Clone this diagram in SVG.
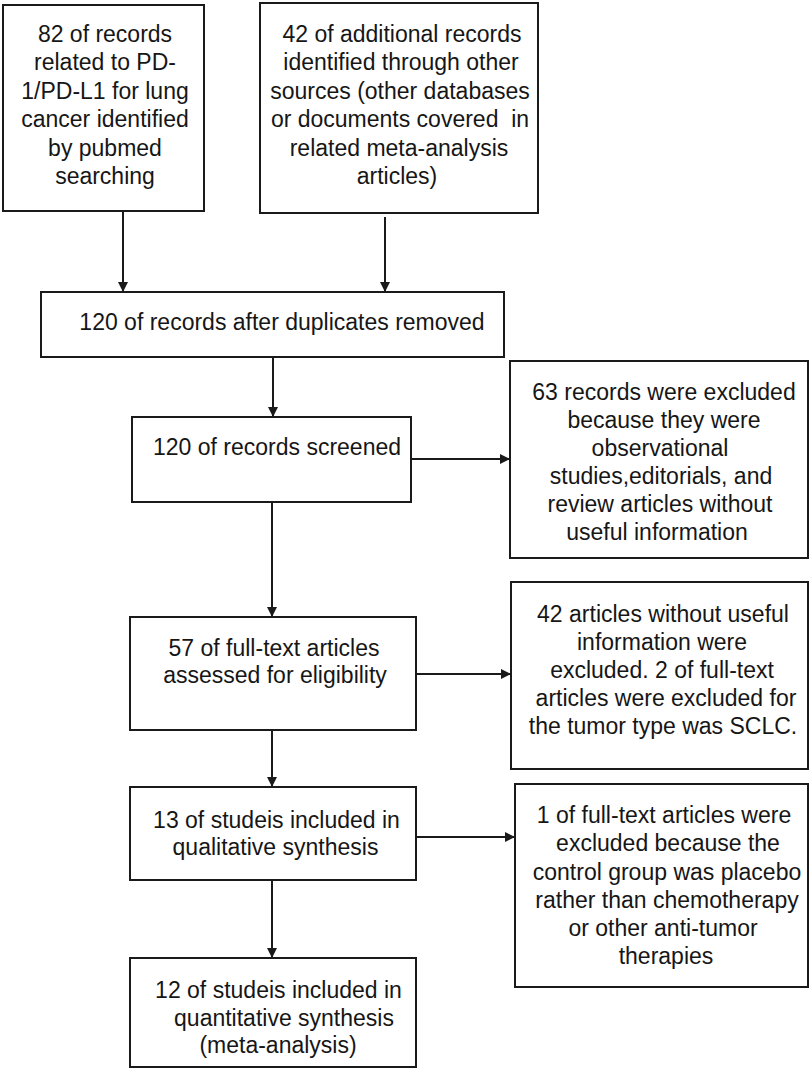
<svg xmlns="http://www.w3.org/2000/svg" width="810" height="1080" viewBox="0 0 810 1080">
<defs>
<marker id="ah" markerUnits="userSpaceOnUse" markerWidth="10" markerHeight="10" refX="10" refY="5" orient="auto">
<path d="M0,0 L10,5 L0,10 z" fill="#1a1a1a"/>
</marker>
<style>
rect.box{fill:#fff;stroke:#1a1a1a;stroke-width:2}
text{font-family:"Liberation Sans",Arial,sans-serif;font-size:23px;fill:#161616;text-anchor:middle}
.conn line{stroke:#1a1a1a;stroke-width:2;marker-end:url(#ah)}
</style>
</defs>
<rect width="810" height="1080" fill="#fff"/>
<g id="n1">
<rect class="box" x="3" y="5" width="201" height="206"/>
<text x="105" y="41.5">82 of records</text>
<text x="105" y="70">related to PD-</text>
<text x="105" y="98.5">1/PD-L1 for lung</text>
<text x="105" y="127">cancer identified</text>
<text x="105" y="155.5">by pubmed</text>
<text x="105" y="184">searching</text>
</g>
<g id="n2">
<rect class="box" x="260" y="3" width="278" height="210"/>
<text x="402" y="41.5">42 of additional records</text>
<text x="401" y="70">identified through other</text>
<text x="400" y="98.5">sources (other databases</text>
<text x="400" y="127" xml:space="preserve">or documents covered  in</text>
<text x="399" y="155.5">related meta-analysis</text>
<text x="397" y="184">articles)</text>
</g>
<g id="n3">
<rect class="box" x="41" y="292" width="463" height="65"/>
<text x="282" y="330">120 of records after duplicates removed</text>
</g>
<g id="n4">
<rect class="box" x="132" y="417" width="279" height="85"/>
<text x="277" y="455">120 of records screened</text>
</g>
<g id="n5">
<rect class="box" x="510" y="361" width="298" height="197"/>
<text x="664" y="400">63 records were excluded</text>
<text x="664" y="428">because they were</text>
<text x="660" y="456">observational</text>
<text x="661" y="484">studies,editorials, and</text>
<text x="660" y="512">review articles without</text>
<text x="657" y="540">useful information</text>
</g>
<g id="n6">
<rect class="box" x="130" y="617" width="286" height="113"/>
<text x="274" y="656">57 of full-text articles</text>
<text x="275" y="683">assessed for eligibility</text>
</g>
<g id="n7">
<rect class="box" x="511" y="582" width="297" height="187"/>
<text x="663" y="622">42 articles without useful</text>
<text x="662" y="650">information were</text>
<text x="662" y="678">excluded. 2 of full-text</text>
<text x="666" y="706">articles were excluded for</text>
<text x="663" y="734">the tumor type was SCLC.</text>
</g>
<g id="n8">
<rect class="box" x="130" y="787" width="286" height="93"/>
<text x="276.5" y="828">13 of studeis included in</text>
<text x="275.5" y="855">qualitative synthesis</text>
</g>
<g id="n9">
<rect class="box" x="515" y="784" width="293" height="203"/>
<text x="664" y="823">1 of full-text articles were</text>
<text x="668" y="851">excluded because the</text>
<text x="667" y="879.5">control group was placebo</text>
<text x="667" y="908">rather than chemotherapy</text>
<text x="663" y="936">or other anti-tumor</text>
<text x="666" y="964">therapies</text>
</g>
<g id="n10">
<rect class="box" x="130" y="958" width="286" height="109"/>
<text x="278.5" y="998">12 of studeis included in</text>
<text x="284" y="1026">quantitative synthesis</text>
<text x="278" y="1053">(meta-analysis)</text>
</g>
<g id="connectors" class="conn">
<line x1="123" y1="211" x2="123" y2="292"/>
<line x1="385" y1="217" x2="385" y2="292"/>
<line x1="273" y1="357" x2="273" y2="417"/>
<line x1="411" y1="459" x2="510" y2="459"/>
<line x1="272" y1="502" x2="272" y2="617"/>
<line x1="416" y1="674" x2="511" y2="674"/>
<line x1="272" y1="730" x2="272" y2="787"/>
<line x1="416" y1="837" x2="515" y2="837"/>
<line x1="272" y1="880" x2="272" y2="958"/>
</g>
</svg>
